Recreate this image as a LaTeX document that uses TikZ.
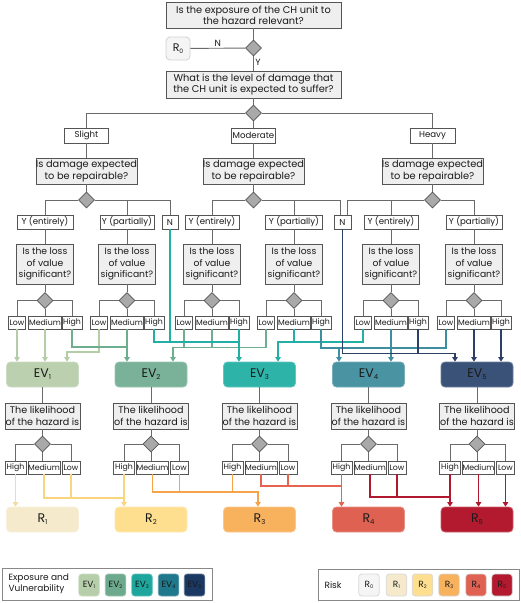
\documentclass[tikz,border=0pt]{standalone}
\usepackage{fontspec}
\setmainfont{Poppins}
\usetikzlibrary{shapes.geometric,arrows.meta}
\definecolor{bd}{HTML}{555555}
\definecolor{qf}{HTML}{EFEFEF}
\definecolor{df}{HTML}{A9A9A9}
\definecolor{lc}{HTML}{6A6A6A}
\definecolor{tx}{HTML}{1A1A1A}
\definecolor{eva}{HTML}{BBD0AE}
\definecolor{evb}{HTML}{79B298}
\definecolor{evc}{HTML}{2DB3A8}
\definecolor{evd}{HTML}{4993A3}
\definecolor{eve}{HTML}{3B5278}
\definecolor{lea}{HTML}{B7CEAA}
\definecolor{leb}{HTML}{6DA98C}
\definecolor{lec}{HTML}{1DA79C}
\definecolor{led}{HTML}{1F788B}
\definecolor{lee}{HTML}{1B3862}
\definecolor{cea}{HTML}{B5CDA6}
\definecolor{ceb}{HTML}{6CAE8F}
\definecolor{cec}{HTML}{22B0A5}
\definecolor{ced}{HTML}{3D8E9F}
\definecolor{cee}{HTML}{2C4066}
\definecolor{rz}{HTML}{F5F5F5}
\definecolor{ra}{HTML}{F5EACB}
\definecolor{rb}{HTML}{FDDF8F}
\definecolor{rc}{HTML}{F8B15C}
\definecolor{rd}{HTML}{DE6151}
\definecolor{re}{HTML}{B31A2F}
\definecolor{cra}{HTML}{F6DB9E}
\definecolor{crb}{HTML}{FBD47E}
\definecolor{crc}{HTML}{F5A44A}
\definecolor{crd}{HTML}{E5644F}
\definecolor{cre}{HTML}{B0182D}
\newcommand\fsz[2]{\fontsize{#1}{#2}\selectfont}
\newcommand\sbs[1]{\raisebox{-0.3ex}{\scalebox{0.55}{#1}}}
\begin{document}
\begin{tikzpicture}[x=1pt,y=-1pt,
  q/.style={draw=bd, fill=qf, line width=0.8pt, inner sep=0pt, align=center, text=tx, font=\fsz{9.8}{11.3}},
  sb/.style={draw=bd, fill=white, line width=0.8pt, inner sep=0pt, align=center, text=tx, font=\fsz{8.6}{9}, minimum height=14pt},
  tb/.style={sb, font=\fsz{7.8}{8}, minimum height=13pt},
  dia/.style={diamond, draw=bd, fill=df, line width=0.8pt, inner sep=0pt, minimum width=16pt, minimum height=16pt},
  evbox/.style={rounded corners=4pt, line width=0.8pt, inner sep=0pt, minimum width=72pt, minimum height=25pt, text=tx, font=\fsz{12.5}{13}},
  lg/.style={rounded corners=3pt, line width=0.8pt, inner sep=0pt, minimum width=20.5pt, minimum height=22pt, text=tx, font=\fsz{9}{9}},
  gl/.style={draw=lc, line width=0.9pt},
  cl/.style={line width=1.1pt},
  ar/.style={cl, -{Triangle[width=5.5pt,length=4.5pt]}},
  lbl/.style={font=\fsz{9}{9}, text=tx, inner sep=1.5pt}]
\useasboundingbox (0,0) rectangle (520,603);
% ---------- top ----------
\node[q, minimum width=175pt, minimum height=26pt] (q1) at (253.5,15) {Is the exposure of the CH unit to\\the hazard relevant?};
\node[dia] (d1) at (253.5,48) {};
\node[evbox, fill=rz, draw=black!18, minimum width=24pt, minimum height=23pt, font=\fsz{11}{12}] (r0) at (178,48.5) {R\sbs{0}};
\node[q, minimum width=175pt, minimum height=27pt] (q2) at (253.5,84.5) {What is the level of damage that\\the CH unit is expected to suffer?};
\node[dia] (d2) at (253.5,113) {};
\node[sb, minimum width=44pt, minimum height=15pt] (sl) at (86.5,135.5) {Slight};
\node[sb, minimum width=44pt, minimum height=15pt] (mo) at (253.5,135.5) {Moderate};
\node[sb, minimum width=45pt, minimum height=15pt] (he) at (432.5,135.5) {Heavy};
\foreach \i/\x in {1/86.5,2/253.5,3/432.5}{
  \node[q, minimum width=97pt, minimum height=26pt] (rp\i) at (\x,171) {Is damage expected\\to be repairable?};
  \node[dia] (dr\i) at (\x,200) {};
}
\node[sb, minimum width=56pt] (ye1) at (45,222) {Y (entirely)};
\node[sb, minimum width=54pt] (yp1) at (127,222) {Y (partially)};
\node[sb, minimum width=16pt] (ns) at (170,222) {N};
\node[sb, minimum width=54pt] (ye2) at (212,222) {Y (entirely)};
\node[sb, minimum width=57pt] (yp2) at (294,222) {Y (partially)};
\node[sb, minimum width=17pt] (nn) at (342.5,222) {N};
\node[sb, minimum width=54pt] (ye3) at (391,222) {Y (entirely)};
\node[sb, minimum width=56pt] (yp3) at (474,222) {Y (partially)};
% gray connectors top
\draw[gl] (q1) -- (d1);
\draw[gl] (d1) -- node[above, lbl]{N} (r0);
\draw[gl] (d1) -- node[right, lbl, pos=0.45]{Y} (q2);
\draw[gl] (q2) -- (d2);
\draw[gl] (d2) -- (mo);
\draw[gl] (d2.west) -| (sl.north);
\draw[gl] (d2.east) -| (he.north);
\foreach \a/\b in {sl/rp1, mo/rp2, he/rp3, rp1/dr1, rp2/dr2, rp3/dr3} \draw[gl] (\a) -- (\b);
\draw[gl] (dr1.west) -| (ye1.north);
\draw[gl] (dr1.east) -| (ns.north);
\draw[gl] (yp1.north) -- (yp1.north |- dr1.east);
\draw[gl] (dr2.west) -| (ye2.north);
\draw[gl] (dr2.east) -| ([xshift=-2.5pt]nn.north);
\draw[gl] (yp2.north) -- (yp2.north |- dr2.east);
\draw[gl] (dr3.west) -| ([xshift=4.5pt]nn.north);
\draw[gl] (dr3.east) -| (yp3.north);
\draw[gl] (ye3.north) -- (ye3.north |- dr3.west);
% ---------- loss groups ----------
\foreach \i/\g in {1/45,2/127,3/212,4/294,5/391,6/474}{
  \node[q, minimum width=57pt, minimum height=40pt, font=\fsz{9.2}{11.8}] (lv\i) at (\g,264) {Is the loss\\of value\\significant?};
  \node[dia] (dl\i) at (\g,300.5) {};
  \node[tb, minimum width=17pt] (l\i) at ({\g-28},322.5) {Low};
  \node[tb, minimum width=33pt] (m\i) at (\g,322.5) {Medium};
  \node[tb, minimum width=20pt] (h\i) at ({\g+27},322.5) {High};
  \draw[gl] (lv\i) -- (dl\i);
  \draw[gl] (dl\i.west) -| (l\i.north);
  \draw[gl] (dl\i.east) -| (h\i.north);
  \draw[gl] (dl\i) -- (m\i);
}
\foreach \a/\b in {ye1/lv1, yp1/lv2, ye2/lv3, yp2/lv4, ye3/lv5, yp3/lv6} \draw[gl] (\a) -- (\b);
% ---------- EV and likelihood ----------
\foreach \i/\e/\c in {1/42.5/eva,2/151/evb,3/259.5/evc,4/368.5/evd,5/477/eve}{
  \node[evbox, fill=\c, draw=\c!75!white] (ev\i) at (\e,374.5) {EV\sbs{\i}};
  \node[q, minimum width=75pt, minimum height=26pt, font=\fsz{9.6}{11.8}] (lk\i) at (\e,416) {The likelihood\\of the hazard is};
  \node[dia] (dk\i) at (\e,444) {};
  \node[tb, minimum width=21pt] (hh\i) at ({\e-27},467.5) {High};
  \node[tb, minimum width=32pt] (mm\i) at ({\e+1.5},467.5) {Medium};
  \node[tb, minimum width=18pt] (ll\i) at ({\e+28.5},467.5) {Low};
  \draw[gl] (ev\i) -- (lk\i);
  \draw[gl] (lk\i) -- (dk\i);
  \draw[gl] (dk\i.west) -| (hh\i.north);
  \draw[gl] (dk\i.east) -| (ll\i.north);
  \draw[gl] (dk\i.south) -- (dk\i.south |- mm\i.north);
}
\foreach \i/\e/\c in {1/42.5/ra,2/151/rb,3/259.5/rc,4/368.5/rd,5/477/re}{
  \node[evbox, fill=\c, draw=\c!70!white] (rr\i) at (\e,519.5) {R\sbs{\i}};
}
% ---------- colored connectors to EV ----------
% EV1
\draw[ar, color=cea] (l1.south) -- (l1.south |- ev1.north);
\draw[ar, color=cea] (m1.south) -- (m1.south |- ev1.north);
\draw[ar, color=cea] (l2.south) |- (67,352) -- ([xshift=24.5pt]ev1.north);
% EV2
\draw[cl, color=ceb] (h1.south) |- (m2.south |- 0,347);
\draw[ar, color=ceb] (m2.south) -- (m2.south |- ev2.north);
\draw[cl, color=ceb] (l3.south) -- (l3.south |- 0,347.5);
\draw[cl, color=ceb] (m3.south) -- (m3.south |- 0,347.5);
\draw[ar, color=ceb] (l4.south) |- (173,347.5) -- ([xshift=22pt]ev2.north);
% EV3
\draw[cl, color=cec] (h2.south) |- (h3.south |- 0,342);
\draw[cl, color=cec] (ns.south) -- (ns.south |- 0,342);
\draw[ar, color=cec] (h3.south) -- (h3.south |- ev3.north);
\draw[cl, color=cec] (l5.south) |- (m4.south |- 0,342);
\draw[ar, color=cec] (m4.south) |- (278,342) -- ([xshift=18.5pt]ev3.north);
% EV4
\draw[cl, color=ced] (h4.south) |- (l6.south |- 0,348) -- (l6.south);
\draw[ar, color=ced] (339,348) -- ([xshift=-29.5pt]ev4.north);
\draw[ar, color=ced] (m5.south) -- (m5.south |- ev4.north);
% EV5
\draw[ar, color=cee] (nn.south) |- (455,353.5) -- ([xshift=-22pt]ev5.north);
\draw[cl, color=cee] (h5.south) -- (h5.south |- 0,353.5);
\draw[ar, color=cee] (m6.south) -- (m6.south |- ev5.north);
\draw[ar, color=cee] (h6.south) -- (h6.south |- ev5.north);
% ---------- colored connectors to R ----------
\draw[ar, color=cra] (hh1.south) -- (hh1.south |- rr1.north);
\draw[cl, color=crb] (mm1.south) |- (hh2.south |- 0,498);
\draw[cl, color=crb] (ll1.south) -- (ll1.south |- 0,498);
\draw[ar, color=crb] (hh2.south) -- (hh2.south |- rr2.north);
\draw[cl, color=crc] (ll2.south) -- (ll2.south |- 0,492);
\draw[cl, color=crc] (hh3.south) -- (hh3.south |- 0,492);
\draw[ar, color=crc] (mm2.south) |- (258,492) -- ([xshift=-1.5pt]rr3.north);
\draw[cl, color=crd] (mm3.south) |- (hh4.south |- 0,486);
\draw[cl, color=crd] (ll3.south) -- (ll3.south |- 0,486);
\draw[ar, color=crd] (hh4.south) -- (hh4.south |- rr4.north);
\draw[cl, color=cre] (mm4.south) |- (hh5.south |- 0,497);
\draw[cl, color=cre] (ll4.south) -- (ll4.south |- 0,497);
\draw[ar, color=cre] (hh5.south) -- (hh5.south |- rr5.north);
\draw[ar, color=cre] (mm5.south) -- (mm5.south |- rr5.north);
\draw[ar, color=cre] (ll5.south) -- (ll5.south |- rr5.north);
% ---------- legends ----------
\node[draw=lc!80, line width=0.9pt, minimum width=210pt, minimum height=32pt, inner sep=0pt] (lgl) at (107,584) {};
\node[anchor=west, align=left, text=tx, font=\fsz{9}{10.5}] (lgt) at (5,584) {Exposure and\\Vulnerability};
\foreach \i/\x/\c in {1/89/lea,2/115.5/leb,3/142/lec,4/168.5/led,5/194.5/lee}{
  \node[lg, fill=\c, draw=\c!70!white] (le\i) at (\x,585) {EV\sbs{\i}};
}
\node[draw=lc!80, line width=0.9pt, minimum width=201pt, minimum height=31pt, inner sep=0pt] (lgr) at (418.5,584.5) {};
\node[anchor=west, text=tx, font=\fsz{9}{10.5}] (lrt) at (321,585) {Risk};
\foreach \i/\x/\c in {0/369/rz,1/396.5/ra,2/422.5/rb,3/449/rc,4/476/rd,5/502/re}{
  \node[lg, fill=\c, draw=black!15] (lr\i) at (\x,585) {R\sbs{\i}};
}
\end{tikzpicture}
\end{document}
